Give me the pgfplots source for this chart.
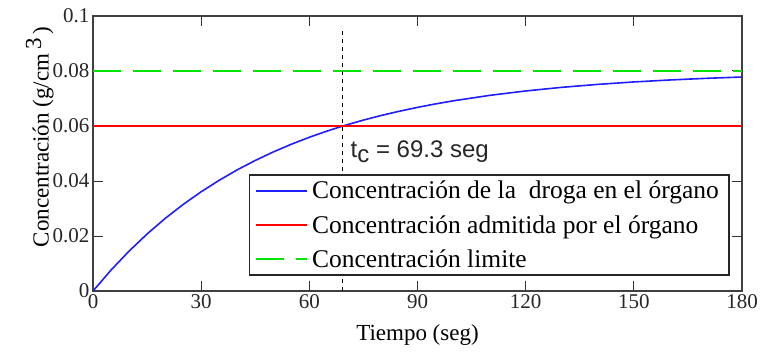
\documentclass[border=0pt]{standalone}
\usepackage{fontspec}
\setmainfont{Liberation Serif}
\newfontfamily\arialfont{Liberation Sans}
\usepackage{pgfplots}
\pgfplotsset{compat=1.18}
\definecolor{cblue}{RGB}{30,30,255}
\definecolor{cred}{RGB}{255,0,0}
\definecolor{cgreen}{RGB}{0,230,0}
\begin{document}
\begin{tikzpicture}
\begin{axis}[
  scale only axis, width=649pt, height=275pt,
  xmin=0, xmax=180, ymin=0, ymax=0.1,
  xtick={0,30,60,90,120,150,180},
  ytick={0,0.02,0.04,0.06,0.08,0.1},
  scaled y ticks=false,
  xticklabel={\rmfamily\pgfmathprintnumber[assume math mode=true]{\tick}},
  yticklabel={\rmfamily\pgfmathprintnumber[fixed,precision=2,assume math mode=true]{\tick}},
  tick label style={font=\rmfamily\fontsize{21}{24}\selectfont, text=black!85},
  tick align=inside, major tick length=10pt,
  tick style={black!80, line width=1pt},
  axis line style={black!75, line width=1.5pt},
  xlabel={Tiempo (seg)},
  ylabel={Concentración (g/cm\,\raisebox{0.7ex}{3}\,)},
  label style={font=\fontsize{23}{26}\selectfont},
  xlabel style={at={(axis description cs:0.5,-0.16)}, anchor=center},
  ylabel style={at={(axis description cs:-0.082,0.56)}, anchor=center},
  legend cell align=left,
  legend image code/.code={\draw[mark repeat=2,mark phase=2,#1] plot coordinates {(0pt,0pt) (25.5pt,0pt) (51pt,0pt)};},
  legend style={name=leg, at={(0.98,0.058)}, anchor=south east, draw=black!85,
    font=\fontsize{25.5}{28}\selectfont, row sep=11pt, inner xsep=6pt, inner ysep=4pt,
    nodes={inner xsep=4pt}, column sep=0pt},
]
\addplot[color=cblue, line width=1.6pt] coordinates {
(0,0) (5,0.007613) (10,0.014502) (15,0.020735) (20,0.026374) (25,0.031478)
(30,0.036095) (35,0.040273) (40,0.044054) (45,0.047474) (50,0.050570)
(55,0.053370) (60,0.055904) (65,0.058197) (69.3,0.06) (70,0.060272)
(75,0.062150) (80,0.063848) (85,0.065385) (90,0.066776) (95,0.068035)
(100,0.069173) (110,0.071136) (120,0.072743) (130,0.074058) (140,0.075135)
(150,0.076017) (160,0.076739) (170,0.077330) (180,0.077814)};
\addlegendentry{Concentración de la\ \ droga en el órgano\hspace{6pt}}
\addplot[color=cred, line width=1.6pt] coordinates {(0,0.06) (180,0.06)};
\addlegendentry{Concentración admitida por el órgano}
\addplot[color=cgreen, line width=1.6pt, dash pattern=on 28pt off 12pt] coordinates {(0,0.08) (180,0.08)};
\addlegendentry{Concentración limite}
\addplot[black, line width=0.9pt, dash pattern=on 4pt off 4pt, forget plot] coordinates {(69.3,0) (69.3,0.095)};
\node[anchor=base west, font=\arialfont\fontsize{24}{28}\selectfont, text=black!85] at (axis cs:70.5,0.0485) {t\raisebox{-0.4ex}{c} = 69.3 seg};
\end{axis}
\draw[black!85, line width=1.2pt] (leg.south west) rectangle (leg.north east);
\path (current axis.south west) ++(-93pt,-60pt) coordinate (bbA);
\path (current axis.north east) ++(20pt,16pt) coordinate (bbB);
\path (bbA) rectangle (bbB);
\end{tikzpicture}
\end{document}
